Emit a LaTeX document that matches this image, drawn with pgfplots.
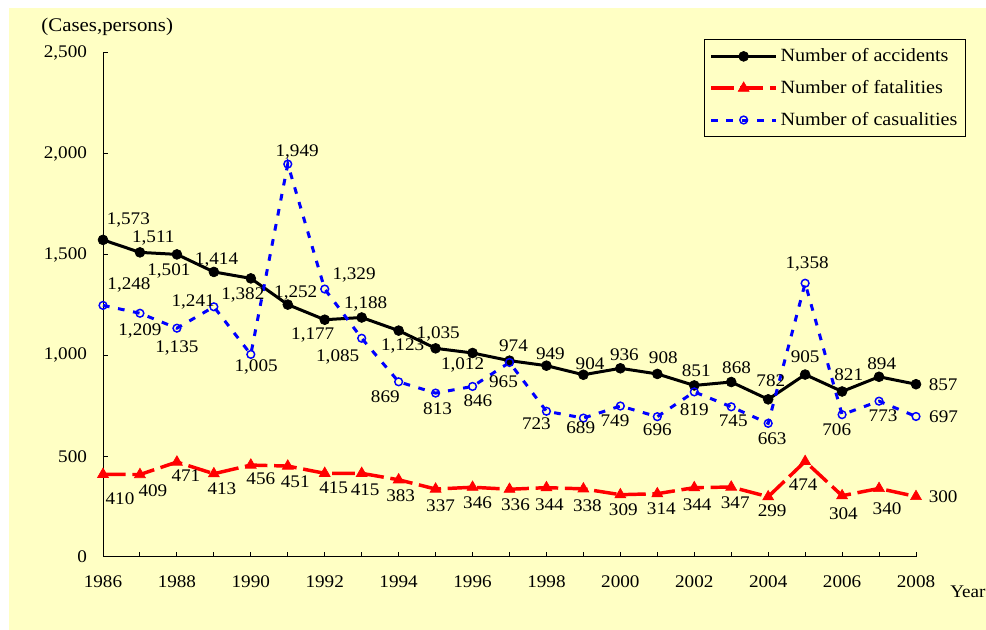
\documentclass[border=0pt]{standalone}
\usepackage{fontspec}
\setmainfont{Liberation Serif}[FakeStretch=1.08]
\usepackage{pgfplots}
\pgfplotsset{compat=1.18}
\definecolor{bgyellow}{RGB}{255,255,196}
\newcommand\lab{\fontsize{13.3}{15}\selectfont}
\newcommand\leg{\fontsize{14}{16}\selectfont}

\pgfplotsset{
  lbl/.style={
    visualization depends on={value \thisrow{anc}\as\labanc},
    visualization depends on={\thisrow{dx}\as\labdx},
    visualization depends on={\thisrow{dy}\as\labdy},
    nodes near coords,
    nodes near coords style={font=\lab, text=black, anchor=\labanc, xshift=\labdx*1pt, yshift=\labdy*1pt},
  },
}

\begin{document}
\begin{tikzpicture}
\useasboundingbox (0pt,0pt) rectangle (739.5pt,-472.5pt);
\fill[white] (0pt,0pt) rectangle (739.5pt,-472.5pt);
\fill[bgyellow] (6.5pt,-6pt) rectangle (739.5pt,-472.5pt);
\begin{axis}[
  at={(77.25pt,-417.75pt)}, anchor=south west,
  scale only axis, width=609.75pt, height=378pt,
  xmin=1986, xmax=2008, ymin=0, ymax=2500,
  axis x line=bottom, axis y line=left,
  axis line style={-, black, line width=0.75pt},
  xtick={1986,1988,...,2008},
  minor xtick={1987,1989,...,2007},
  ytick={0,500,...,2500},
  tick align=inside,
  major tick length=3.75pt, minor tick length=3.75pt,
  tick style={black, line width=0.75pt},
  every minor tick/.style={black, line width=0.75pt},
  scaled y ticks=false,
  /pgf/number format/assume math mode=true,
  x tick label style={font=\lab, yshift=-10.5pt, /pgf/number format/.cd, 1000 sep={}},
  y tick label style={font=\lab, xshift=-8.5pt},
  clip=false,
  legend image code/.code={\draw[mark repeat=2,mark phase=2,#1] plot coordinates {(0pt,0pt)(24.4pt,0pt)(48.8pt,0pt)};},
  legend style={at={(1.0615,1.0278)}, anchor=north east, draw=black, line width=0.75pt, fill=bgyellow, font=\leg, row sep=8.5pt, inner xsep=4pt, inner ysep=5pt},
  legend cell align=left,
]
\addplot[lbl, black, line width=2.25pt, mark=*, mark size=3.7pt, mark options={solid, fill=black, line width=0.5pt}]
  table[x=year, y=val] {
year val anc dx dy
1986 1573 south 19 6
1987 1511 south 10 1.5
1988 1501 north -6 -3.4
1989 1414 south 2 0
1990 1382 north -6 -3.6
1991 1252 south 6 0
1992 1177 north -9 -2.6
1993 1188 south 3 1
1994 1123 north 3 -2.7
1995 1035 south 2 1.8
1996 1012 north -7.5 0
1997 974 south 3 2.8
1998 949 south 3 1
1999 904 south 5 0
2000 936 south 3 2.4
2001 908 south 4.5 4
2002 851 south 1.5 2.7
2003 868 south 4 2.6
2004 782 south 2 6
2005 905 south 0 5
2006 821 south 5 4.8
2007 894 south 2 1.7
2008 857 west 6 0
};
\addlegendentry{Number of accidents}
\addplot[lbl, red, line width=2.6pt, dash pattern=on 17pt off 5pt, mark=triangle*, mark size=4.7pt, mark options={solid, fill=red, line width=0.5pt}]
  table[x=year, y=val] {
year val anc dx dy
1986 410 north 12.75 -10
1987 409 north 9.75 -4
1988 471 north 6.75 -2.6
1989 413 north 6 -2.9
1990 456 north 7.5 -2.4
1991 451 north 5.6 -3.7
1992 415 north 6.7 -2.4
1993 415 north 2.6 -4.4
1994 383 north 1.5 -3.8
1995 337 north 3.75 -4.3
1996 346 north 3.75 -3.7
1997 336 north 4.5 -3.7
1998 344 north 2.2 -5
1999 338 north 3 -4.5
2000 309 north 2.2 -3.2
2001 314 north 3 -3.4
2002 344 north 2.2 -5
2003 347 north 3 -3.9
2004 299 north 3 -2.4
2005 474 north -1.5 -9.6
2006 304 north 1 -5.6
2007 340 north 6 -7.3
2008 300 west 6 0
};
\addlegendentry{Number of fatalities}
\addplot[lbl, blue, line width=2.25pt, dash pattern=on 5pt off 6.5pt, mark=o, mark size=2.9pt, mark options={solid, fill=white, line width=1.1pt}]
  table[x=year, y=val] {
year val anc dx dy
1986 1248 south 19.5 6
1987 1209 north 0 -3.7
1988 1135 north 0 -5.5
1989 1241 east 4.5 3.5
1990 1005 north 4 0
1991 1949 south 7 0
1992 1329 south 22 1.2
1993 1085 north -18 -4.4
1994 869 north -10 -2.8
1995 813 north 1.5 -3.3
1996 846 north 4 -2.6
1997 965 north -4.5 -6.3
1998 723 north -7.5 -0.8
1999 689 north -2 1.2
2000 749 north -4 -2.9
2001 696 north 0 -1.6
2002 819 north 0 -5.2
2003 745 north 1.5 -2.3
2004 663 north 3 -2.9
2005 1358 south 1.5 5
2006 706 north -4 -2.6
2007 773 north 3 -2.8
2008 697 west 6 0
};
\addlegendentry{Number of casualities}
\end{axis}
\node[font=\fontsize{14.5}{16}\selectfont, inner sep=0pt] at (80.4pt,-20.25pt) {(Cases,persons)};
\node[font=\lab, inner sep=0pt, anchor=west] at (712.5pt,-443.8pt) {Year};
\end{tikzpicture}
\end{document}
